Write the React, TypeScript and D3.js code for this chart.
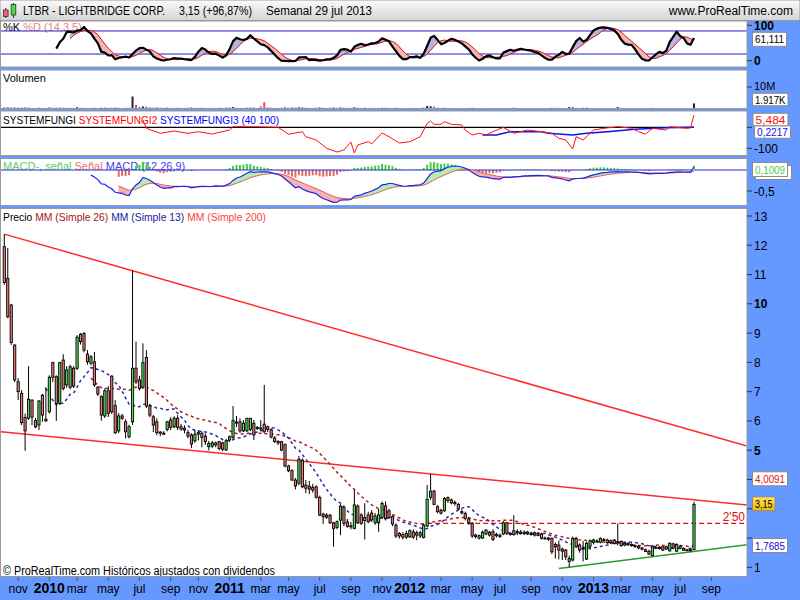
import React from "react";
import * as d3 from "d3";

// ---------- DATA (weekly bars, LTBR, from 5 Oct 2009 to 29 Jul 2013) ----------
const START_DATE = new Date(2009, 9, 5);

const OPEN = [
  11.95,10.87,9.96,8.59,7.34,6.94,6.12,6.09,6.71,6.01,
  5.86,6.88,6.06,6.31,7.99,7.51,6.60,8.08,7.23,7.15,
  7.80,7.80,8.96,8.99,8.28,7.97,8.02,7.15,6.83,6.17,
  7.03,7.53,6.52,5.66,6.17,5.97,5.46,5.97,7.80,7.40,
  7.15,8.17,6.51,6.14,5.97,5.62,5.58,5.71,6.03,5.80,
  6.09,5.80,5.75,5.60,5.52,5.32,5.60,5.58,5.48,5.12,
  5.14,5.18,5.29,5.25,5.01,5.35,5.44,5.96,5.97,5.66,
  5.66,5.71,5.92,5.78,5.76,5.89,5.80,5.70,5.42,5.30,
  5.29,5.20,4.46,4.30,3.98,3.87,4.66,3.81,3.77,3.73,
  3.75,3.39,2.82,2.78,2.78,2.52,2.36,2.61,3.05,2.55,
  2.42,2.33,3.09,2.79,2.60,2.79,2.85,2.52,2.52,2.70,
  3.10,2.93,2.73,2.44,2.16,2.12,2.15,2.04,2.21,2.18,
  2.18,2.02,2.41,3.39,3.60,3.07,2.95,2.93,3.38,3.30,
  3.22,3.15,2.90,2.84,2.65,2.50,2.10,2.08,2.00,2.14,
  2.20,2.21,2.12,2.10,2.14,2.52,2.16,2.12,2.22,2.20,
  2.15,2.20,2.16,2.18,2.14,2.14,2.00,2.00,1.99,1.78,
  1.76,1.62,1.59,1.20,1.25,1.99,1.76,1.65,1.28,1.72,
  1.85,1.90,1.86,1.95,1.93,1.85,1.93,1.84,1.88,1.76,
  1.82,1.78,1.74,1.72,1.66,1.60,1.55,1.40,1.68,1.68,
  1.70,1.70,1.56,1.80,1.55,1.72,1.64,1.60,1.59,1.61,
];
const HIGH = [
  12.38,11.91,10.00,8.62,7.46,7.05,6.25,7.87,6.74,6.10,
  6.71,6.92,7.15,7.56,8.02,7.56,8.02,8.28,7.87,7.92,
  7.87,8.93,9.00,9.03,8.42,8.25,8.36,7.19,6.88,7.11,
  7.19,7.56,6.71,6.27,6.24,6.06,5.87,11.13,8.71,7.54,
  8.65,8.42,6.58,6.20,6.09,5.65,5.65,6.00,6.13,6.16,
  6.20,5.90,5.85,5.69,5.58,5.69,5.69,5.65,5.58,5.32,
  5.32,5.29,5.32,5.29,5.39,5.50,6.51,6.17,6.09,6.03,
  6.09,6.09,6.03,5.82,6.03,7.23,5.84,5.75,5.48,5.34,
  5.32,5.22,4.50,4.35,4.05,4.80,4.72,3.98,3.95,3.85,
  3.80,3.45,2.86,2.85,2.82,2.55,2.60,3.16,3.12,2.65,
  2.55,3.64,3.15,2.85,3.19,2.90,2.95,2.85,3.00,3.25,
  3.25,3.00,2.78,2.50,2.20,2.20,2.25,2.30,2.30,2.25,
  2.25,2.50,3.81,4.19,3.65,3.12,3.00,3.40,3.42,3.35,
  3.28,3.20,2.98,2.90,2.72,2.55,2.15,2.12,2.25,2.30,
  2.24,2.30,2.18,2.15,2.58,2.55,2.20,2.78,2.30,2.28,
  2.26,2.25,2.22,2.22,2.20,2.18,2.05,2.04,2.02,1.85,
  1.91,1.68,1.62,1.40,2.05,2.04,1.82,1.90,1.87,1.95,
  1.98,1.96,2.02,2.00,1.98,1.95,1.97,2.50,1.92,1.86,
  1.86,1.82,1.78,1.76,1.70,1.64,1.60,1.72,1.74,1.72,
  1.72,1.74,1.85,1.84,1.82,1.76,1.68,1.63,1.63,3.24,
];
const LOW = [
  10.65,9.50,8.60,7.33,6.71,5.86,4.98,6.03,5.86,5.75,
  5.69,5.97,5.97,6.26,7.33,6.00,6.54,7.04,7.13,7.08,
  7.12,7.74,8.61,8.34,7.92,7.90,7.16,6.85,6.01,6.10,
  6.13,6.24,5.55,5.58,6.03,5.40,5.40,5.86,7.26,7.04,
  7.09,6.44,6.13,5.62,5.51,5.48,5.52,5.64,5.69,5.75,
  5.69,5.66,5.58,5.41,5.07,5.25,5.34,5.10,5.18,4.99,
  5.07,5.10,5.00,4.97,4.97,5.28,5.37,5.79,5.59,5.62,
  5.62,5.65,5.35,5.69,5.65,5.58,5.62,5.40,5.25,5.18,
  4.97,4.41,4.25,3.95,3.66,3.80,3.70,3.53,3.50,3.55,
  3.35,2.75,2.48,2.65,2.48,1.70,2.30,2.10,2.40,2.35,
  2.30,2.30,2.48,2.45,1.95,2.50,2.55,2.45,2.21,2.65,
  2.60,2.65,2.40,2.00,1.98,1.95,1.97,2.00,1.97,1.93,
  2.00,1.98,2.38,3.30,3.12,2.85,2.80,2.90,3.20,3.15,
  3.10,2.95,2.80,2.60,2.45,2.00,1.98,1.95,1.97,2.10,
  2.05,1.90,2.02,2.00,2.10,2.10,2.08,2.08,2.10,2.12,
  2.10,2.10,2.08,2.05,2.06,1.95,1.95,1.90,1.45,1.30,
  1.27,1.25,1.25,1.00,1.20,1.65,1.50,1.20,1.25,1.60,
  1.78,1.84,1.82,1.88,1.80,1.80,1.78,1.75,1.70,1.72,
  1.74,1.70,1.66,1.62,1.58,1.52,1.42,1.38,1.62,1.60,
  1.55,1.60,1.54,1.62,1.52,1.62,1.56,1.55,1.54,1.58,
];
const CLOSE = [
  10.73,9.56,8.68,7.40,7.00,5.94,5.66,6.74,6.13,5.80,
  6.68,6.20,6.00,7.49,7.49,6.60,7.99,7.11,7.74,7.85,
  7.19,8.86,8.71,8.42,8.02,8.19,7.23,6.92,6.20,7.03,
  6.26,6.31,5.60,6.17,6.09,5.63,5.80,7.80,7.34,7.11,
  7.99,6.51,6.20,5.86,5.60,5.58,5.56,5.97,5.78,6.09,
  5.78,5.72,5.69,5.48,5.21,5.55,5.55,5.44,5.29,5.23,
  5.25,5.25,5.06,5.03,5.32,5.46,6.01,5.94,5.66,5.92,
  6.09,6.09,5.52,5.75,5.74,5.63,5.71,5.45,5.30,5.25,
  5.00,4.46,4.30,3.98,3.78,4.69,3.75,3.70,3.67,3.64,
  3.39,2.78,2.73,2.71,2.52,2.33,2.56,3.09,2.50,2.40,
  2.38,3.13,2.52,2.50,2.70,2.56,2.62,2.75,2.79,3.18,
  2.66,2.70,2.48,2.07,2.07,2.03,2.03,2.25,2.03,2.10,
  2.07,2.44,3.32,3.60,3.15,2.90,2.85,3.35,3.28,3.20,
  3.18,2.99,2.86,2.67,2.52,2.07,2.05,2.00,2.20,2.27,
  2.10,1.95,2.08,2.05,2.52,2.16,2.12,2.25,2.18,2.16,
  2.20,2.14,2.12,2.10,2.09,1.99,1.98,1.96,1.53,1.70,
  1.59,1.55,1.36,1.30,1.99,1.70,1.59,1.62,1.82,1.90,
  1.93,1.88,1.99,1.94,1.84,1.91,1.82,1.88,1.74,1.82,
  1.78,1.74,1.72,1.66,1.62,1.54,1.45,1.70,1.66,1.64,
  1.59,1.62,1.82,1.66,1.78,1.65,1.58,1.58,1.60,3.15,
];
// volume in millions of shares
const VOLUME = [
  0.5,0.6,0.4,0.5,0.3,0.4,0.5,0.3,0.2,0.2,
  0.3,0.2,0.2,0.4,0.3,0.4,0.3,0.3,0.2,0.2,
  0.2,0.5,0.3,0.3,0.2,0.2,0.3,0.2,0.4,0.3,
  0.2,0.3,0.4,0.2,0.1,0.3,0.2,5.8,1.7,0.6,
  0.9,0.8,0.5,0.4,0.5,0.3,0.2,0.3,0.2,0.2,
  0.3,0.2,0.2,0.3,0.5,0.2,0.3,0.3,0.2,0.2,
  0.2,0.1,0.3,0.2,0.3,0.3,0.6,0.3,0.2,0.2,
  0.3,0.3,0.4,0.1,0.9,3.0,0.4,0.3,0.2,0.2,
  0.3,0.6,0.3,0.5,0.4,0.5,0.5,0.3,0.2,0.2,
  0.3,0.6,0.3,0.2,0.3,0.5,0.2,0.4,0.3,0.2,
  0.2,0.5,0.3,0.2,0.3,0.2,0.2,0.2,0.2,0.3,
  0.3,0.2,0.2,0.3,0.1,0.1,0.1,0.2,0.1,0.1,
  0.1,0.3,1.2,1.0,0.8,0.3,0.2,0.3,0.2,0.1,
  0.1,0.1,0.1,0.1,0.2,0.3,0.1,0.1,0.1,0.1,
  0.1,0.2,0.1,0.1,0.2,0.2,0.1,0.3,0.1,0.1,
  0.1,0.1,0.1,0.1,0.1,0.1,0.1,0.1,0.3,0.2,
  0.2,0.1,0.2,0.6,0.5,0.2,0.2,0.3,0.3,0.1,
  0.1,0.1,0.1,0.1,0.1,0.1,0.1,0.6,0.2,0.1,
  0.1,0.1,0.1,0.1,0.1,0.1,0.1,0.2,0.1,0.1,
  0.1,0.1,0.1,0.1,0.1,0.1,0.1,0.1,0.1,2.4,
];
// SYSTEMFUNGI2 (red) and SYSTEMFUNGI3 (blue): bar index / value
const SF2_IDX = [40,41,45,49,53,56,60,65,66,72,79,82,86,87,90,93,96,98,100,101,102,105,106,109,111,114,117,120,122,123,124,126,127,129,132,133,135,137,139,141,144,147,151,155,158,160,162,164,165,167,170,173,177,181,183,185,187,191,192,197,198,199];
const SF2_VAL = [34.8,-4.8,-28.6,-17.6,-28.6,-21,-31.9,-12.9,2.9,2.9,0,-33,-21,-44.8,-60.5,-100,-117.6,-108,-70,-122,-84,-68.6,-79.5,-27,-44.8,-74.8,-68.6,-44.8,19,30,14.3,14.3,26.7,14.3,11,-12.9,-36.7,-28.6,-36.7,-21,0,-28.6,-12.9,-21,-28.6,-52.4,-60.5,-103,-44.8,-60.5,-12.9,-4.8,2.9,-4.8,-21,-33,-4.8,-12.9,2.9,-4.8,-3,58.6];
const SF3_IDX = [138,142,146,155,157,164,168,174,182,191,199];
const SF3_VAL = [-36.7,-36.7,-21,-21,-28.6,-36.7,-28.6,-21,-9.5,-1.9,0.2];

// trend lines: [barIndex, price] anchors
const TREND_UPPER = [[0, 12.38], [37, 11.13]];
const TREND_LOWER = [[0, 5.62], [123, 4.19]];
const TREND_GREEN = [[160, 0.955], [199, 1.54]];
const LEVEL_START = 122;
const LEVEL_VALUE = 2.5;

const PRICE_TICKS = [1,2,3,4,5,6,7,8,9,10,11,12,13];
const PRICE_TICKS_HIDDEN = [2,3,4]; // covered by the value boxes
const MONTHS_ES = ["ene","feb","mar","abr","may","jun","jul","ago","sep","oct","nov","dic"];

// ---------- helpers ----------
type N = number | null;
const smaN = (arr: N[], n: number): N[] =>
  arr.map((_, i) => {
    if (i < n - 1) return null;
    const w = arr.slice(i - n + 1, i + 1);
    if (w.some((v) => v == null)) return null;
    return d3.mean(w as number[]) as number;
  });
const emaN = (arr: N[], n: number, from: number): N[] => {
  const k = 2 / (n + 1);
  let prev: number | null = null;
  return arr.map((v, i) => {
    if (i < from || v == null) return null;
    prev = prev == null ? v : prev + k * (v - prev);
    return prev;
  });
};

const FONT = "'Liberation Sans', Arial, sans-serif";
const BLUE_BG = "#6699ff";

function diffFill(a: N[], b: N[], xf: (i: number) => number, yf: (v: number) => number) {
  const out: { d: string; pos: boolean }[] = [];
  for (let i = 0; i < a.length - 1; i++) {
    const a0 = a[i], b0 = b[i], a1 = a[i + 1], b1 = b[i + 1];
    if (a0 == null || b0 == null || a1 == null || b1 == null) continue;
    const d0 = a0 - b0, d1 = a1 - b1;
    const x0 = xf(i), x1 = xf(i + 1);
    if (d0 * d1 < 0) {
      const t = d0 / (d0 - d1);
      const xc = x0 + t * (x1 - x0);
      const vc = a0 + t * (a1 - a0);
      out.push({ d: `M${x0},${yf(a0)}L${xc},${yf(vc)}L${x0},${yf(b0)}Z`, pos: d0 > 0 });
      out.push({ d: `M${xc},${yf(vc)}L${x1},${yf(a1)}L${x1},${yf(b1)}Z`, pos: d1 > 0 });
    } else {
      out.push({ d: `M${x0},${yf(a0)}L${x1},${yf(a1)}L${x1},${yf(b1)}L${x0},${yf(b0)}Z`, pos: d0 + d1 > 0 });
    }
  }
  return out;
}

function ValueBox({ x, y, w, text, color, bg = "#ffffff", h = 14 }: { x: number; y: number; w: number; text?: string; color: string; bg?: string; h?: number }) {
  return (
    <g>
      <rect x={x} y={y - h / 2} width={w} height={h} fill={bg} stroke="#8a8a8a" strokeWidth={1} />
      {text ? (
        <text x={x + 2.5} y={y + 4} fontSize={11} fontFamily={FONT} fill={color} textLength={w - 5} lengthAdjust="spacingAndGlyphs">{text}</text>
      ) : null}
    </g>
  );
}

export default function App() {
  const n = CLOSE.length;
  const dates = CLOSE.map((_, i) => d3.timeDay.offset(START_DATE, 7 * i));
  const x = d3.scaleTime().domain([dates[0], dates[n - 1]]).range([4.3, 694]);
  const xi = (i: number) => x(dates[i]) as number;
  const xIdx = d3.scaleLinear().domain([0, n - 1]).range([4.3, 694]);

  const RIGHT = 747;
  const P = { stoch: [21, 67], vol: [70, 108.5], sf: [111, 155.5], macd: [158.5, 205.5], price: [208.5, 576.5] };

  const yP = d3.scaleLinear().domain([1, 13]).range([567.3, 216]);
  const yS = d3.scaleLinear().domain([0, 100]).range([61.7, 23.3]);
  const yV = d3.scaleLinear().domain([0, 10]).range([108.3, 88]);
  const yF = d3.scaleLinear().domain([-100, 0]).range([148.3, 127.3]);
  const yM = d3.scaleLinear().domain([-0.5, 0]).range([191, 170]);

  // indicators
  const rawK: N[] = CLOSE.map((c, i) => {
    if (i < 13) return null;
    const hh = d3.max(HIGH.slice(i - 13, i + 1)) as number;
    const ll = d3.min(LOW.slice(i - 13, i + 1)) as number;
    return hh === ll ? 50 : (100 * (c - ll)) / (hh - ll);
  });
  const K = smaN(rawK, 3);
  const D = smaN(K, 5);
  const sma13 = smaN(CLOSE, 13);
  const sma26 = smaN(CLOSE, 26);
  const e12 = emaN(CLOSE, 12, 0);
  const e26 = emaN(CLOSE, 26, 0);
  const macd: N[] = CLOSE.map((_, i) => (i < 25 ? null : (e12[i] as number) - (e26[i] as number)));
  const signal: N[] = emaN(macd, 9, 25).map((v, i) => (i < 33 ? null : v));
  const hist: N[] = macd.map((v, i) => (v == null || signal[i] == null ? null : v - (signal[i] as number)));

  const lineOf = (arr: N[], yf: (v: number) => number) =>
    d3.line<N>().defined((v) => v != null).x((_, i) => xi(i)).y((v) => yf(v as number))(arr) || "";

  const stochFill = diffFill(K, D, xi, (v) => yS(v));
  const macdFill = diffFill(macd, signal, xi, (v) => yM(v));

  const sfLine = (idx: number[], vals: number[]) =>
    d3.line<number>().x((_, k) => xi(idx[k])).y((v) => yF(v))(vals) || "";

  const trend = (anchors: number[][], extendLeft: boolean) => {
    const [[i1, v1], [i2, v2]] = anchors;
    const slope = (v2 - v1) / (i2 - i1);
    const iL = extendLeft ? xIdx.invert(0) : i1;
    const iR = xIdx.invert(RIGHT);
    return { x1: xIdx(iL), y1: yP(v1 + slope * (iL - i1)), x2: xIdx(iR), y2: yP(v1 + slope * (iR - i1)) };
  };
  const tU = trend(TREND_UPPER, false);
  const tL = trend(TREND_LOWER, true);
  const tG = trend(TREND_GREEN, false);

  const months = d3.timeMonth.range(new Date(2009, 10, 1), new Date(2013, 9, 2), 2);

  const panel = (key: keyof typeof P) => (
    <rect x={0.5} y={P[key][0]} width={RIGHT - 0.5} height={P[key][1] - P[key][0]} fill="#ffffff" stroke="#9a9a9a" strokeWidth={1} />
  );
  const clip = (key: keyof typeof P) => (
    <clipPath id={`clip-${key}`}>
      <rect x={1} y={P[key][0] + 0.5} width={RIGHT - 1.5} height={P[key][1] - P[key][0] - 1} />
    </clipPath>
  );
  const tick = (y: number) => <line x1={RIGHT} x2={RIGHT + 5} y1={y} y2={y} stroke="#333" strokeWidth={1} />;
  const axLabel = (y: number, t: string, bold = false, size = 12) => (
    <text x={RIGHT + 7} y={y + 4.5} fontSize={size} fontWeight={bold ? "bold" : "normal"} fontFamily={FONT} fill="#000">{t}</text>
  );

  const up = (i: number) => CLOSE[i] >= OPEN[i];

  return (
    <div style={{ width: 800, height: 600 }}>
      <style>{`body{margin:0;padding:0;overflow:hidden}`}</style>
      <svg width={800} height={600} style={{ display: "block" }} fontFamily={FONT}>
        <defs>
          <linearGradient id="hdr" x1="0" y1="0" x2="0" y2="1">
            <stop offset="0" stopColor="#fbfbfb" />
            <stop offset="1" stopColor="#d4d4d4" />
          </linearGradient>
          <linearGradient id="gold" x1="0" y1="0" x2="0" y2="1">
            <stop offset="0" stopColor="#ffe066" />
            <stop offset="1" stopColor="#f5b800" />
          </linearGradient>
          {clip("stoch")}
          {clip("vol")}
          {clip("sf")}
          {clip("macd")}
          {clip("price")}
        </defs>
        <rect x={0} y={0} width={800} height={600} fill={BLUE_BG} />

        {/* header */}
        <rect x={0} y={0} width={800} height={20.5} fill="url(#hdr)" stroke="#999" strokeWidth={1} />
        <line x1={5.8} x2={5.8} y1={8} y2={18} stroke="#333" />
        <rect x={3.5} y={10} width={4.6} height={6.5} fill="#ee6666" stroke="#333" strokeWidth={0.8} />
        <line x1={13.5} x2={13.5} y1={3} y2={18} stroke="#333" />
        <rect x={11.2} y={4.5} width={4.6} height={10.5} fill="#44dd44" stroke="#333" strokeWidth={0.8} />
        <text x={23} y={15} fontSize={12} fill="#000" textLength={142} lengthAdjust="spacingAndGlyphs">LTBR - LIGHTBRIDGE CORP.</text>
        <text x={179} y={15} fontSize={12} fill="#000" textLength={73} lengthAdjust="spacingAndGlyphs">3,15 (+96,87%)</text>
        <text x={266} y={15} fontSize={12} fill="#000" textLength={106} lengthAdjust="spacingAndGlyphs">Semanal  29 jul 2013</text>
        <text x={793} y={15} fontSize={12} fill="#000" textAnchor="end">www.ProRealTime.com</text>

        {/* ---------- stochastic ---------- */}
        {panel("stoch")}
        <g clipPath="url(#clip-stoch)">
          <text x={3} y={31} fontSize={11}>
            <tspan fill="#000">%K </tspan>
            <tspan fill="#f08080">%D (14,3,5)</tspan>
          </text>
          <line x1={0} x2={RIGHT} y1={yS(80)} y2={yS(80)} stroke="#1f1fcc" strokeWidth={1} />
          <line x1={0} x2={RIGHT} y1={yS(20)} y2={yS(20)} stroke="#1f1fcc" strokeWidth={1} />
          {stochFill.map((p, k) => (
            <path key={k} d={p.d} fill={p.pos ? "#b3b3dd" : "#f3b5b5"} stroke={p.pos ? "#b3b3dd" : "#f3b5b5"} strokeWidth={0.4} />
          ))}
          <path d={lineOf(D, (v) => yS(v))} fill="none" stroke="#e01010" strokeWidth={1} />
          <path d={lineOf(K, (v) => yS(v))} fill="none" stroke="#000" strokeWidth={2.2} strokeLinejoin="round" />
        </g>
        {tick(yS(100) + 2)}
        {axLabel(yS(100) + 2, "100", true)}
        {tick(yS(0) - 1)}
        {axLabel(yS(0) - 1, "0", true)}
        <ValueBox x={752.5} y={39.3} w={34} text="61,111" color="#000" />

        {/* ---------- volume ---------- */}
        {panel("vol")}
        <g clipPath="url(#clip-vol)">
          <text x={3} y={81.5} fontSize={11} fill="#000">Volumen</text>
          {VOLUME.map((v, i) => (
            <rect key={i} x={xi(i) - 1} y={yV(v)} width={2} height={yV(0) - yV(v)} fill={up(i) ? "#222" : "#e05050"} />
          ))}
        </g>
        {tick(87)}
        {axLabel(85.5, "10M", false, 11)}
        <ValueBox x={752.5} y={99.5} w={35.5} h={12.5} text="1.917K" color="#000" />

        {/* ---------- SYSTEMFUNGI ---------- */}
        {panel("sf")}
        <g clipPath="url(#clip-sf)">
          <text x={3} y={124} fontSize={11} textLength={276} lengthAdjust="spacingAndGlyphs">
            <tspan fill="#000">SYSTEMFUNGI </tspan>
            <tspan fill="#ff0000">SYSTEMFUNGI2 </tspan>
            <tspan fill="#0000ff">SYSTEMFUNGI3 (40 100)</tspan>
          </text>
          <line x1={0} x2={xi(n - 1)} y1={yF(0)} y2={yF(0)} stroke="#000" strokeWidth={1.2} />
          <path d={sfLine(SF3_IDX, SF3_VAL)} fill="none" stroke="#1010ee" strokeWidth={1.4} />
          <path d={sfLine(SF2_IDX, SF2_VAL)} fill="none" stroke="#ff1010" strokeWidth={1} />
        </g>
        {tick(yF(-100))}
        {axLabel(yF(-100), "-100")}
        {tick(yF(0))}
        <ValueBox x={754.5} y={132} w={36} h={12.5} text="0,2217" color="#1010ee" />
        <ValueBox x={753} y={119.5} w={35} h={12.5} text="5,484" color="#ff1010" />

        {/* ---------- MACD ---------- */}
        {panel("macd")}
        <g clipPath="url(#clip-macd)">
          <text x={3} y={170} fontSize={11}>
            <tspan fill="#5dcc5d">MACD-, señal </tspan>
            <tspan fill="#ee7070">Señal </tspan>
            <tspan fill="#4444ee">MACD (12,26,9)</tspan>
          </text>
          {hist.map((h, i) =>
            h == null ? null : (
              <rect key={i} x={xi(i) - 1} y={Math.min(yM(0), yM(h))} width={2} height={Math.abs(yM(h) - yM(0))} fill={h >= 0 ? "#3fcf3f" : "#e06a6a"} />
            )
          )}
          <line x1={0} x2={RIGHT} y1={yM(0)} y2={yM(0)} stroke="#2a2ad0" strokeWidth={1} />
          {macdFill.map((p, k) => (
            <path key={k} d={p.d} fill={p.pos ? "#b2eeb2" : "#f2b2b2"} stroke={p.pos ? "#b2eeb2" : "#f2b2b2"} strokeWidth={0.4} />
          ))}
          <path d={lineOf(signal, (v) => yM(v))} fill="none" stroke="#e06060" strokeWidth={1} />
          <path d={lineOf(macd, (v) => yM(v))} fill="none" stroke="#2222ee" strokeWidth={1.2} />
        </g>
        {tick(yM(-0.5))}
        {axLabel(yM(-0.5), "-0,5")}
        <ValueBox x={755.5} y={172.5} w={36} color="#e06060" />
        <ValueBox x={752.5} y={169.5} w={35} text="0,1009" color="#3fcf3f" />

        {/* ---------- price ---------- */}
        {panel("price")}
        <g clipPath="url(#clip-price)">
          <text x={3} y={221} fontSize={11} textLength={263} lengthAdjust="spacingAndGlyphs">
            <tspan fill="#000">Precio </tspan>
            <tspan fill="#a01818">MM (Simple 26) </tspan>
            <tspan fill="#1a1a9a">MM (Simple 13) </tspan>
            <tspan fill="#ff4040">MM (Simple 200)</tspan>
          </text>
          <line {...tU} stroke="#ff2a2a" strokeWidth={1.5} />
          <line {...tL} stroke="#ff2a2a" strokeWidth={1.5} />
          <line {...tG} stroke="#2a9a2a" strokeWidth={1.5} />
          <line x1={xi(LEVEL_START)} x2={RIGHT} y1={yP(LEVEL_VALUE)} y2={yP(LEVEL_VALUE)} stroke="#dd1111" strokeWidth={1.2} strokeDasharray="5,3" />
          <text x={745} y={yP(LEVEL_VALUE) - 2} fontSize={12} fill="#e01010" textAnchor="end">2'50</text>
          <path d={lineOf(sma26, (v) => yP(v))} fill="none" stroke="#b02020" strokeWidth={1.5} strokeDasharray="3,3" />
          <path d={lineOf(sma13, (v) => yP(v))} fill="none" stroke="#2a2aaa" strokeWidth={1.5} strokeDasharray="3,3" />
          {CLOSE.map((c, i) => {
            const cx = xi(i);
            const top = yP(Math.max(OPEN[i], c));
            const bot = yP(Math.min(OPEN[i], c));
            return (
              <g key={i}>
                <line x1={cx} x2={cx} y1={yP(HIGH[i])} y2={yP(LOW[i])} stroke="#000" strokeWidth={1} />
                <rect x={cx - 1.1} y={top} width={2.2} height={Math.max(1, bot - top)} fill={up(i) ? "#55dd55" : "#f07878"} stroke="#000" strokeWidth={0.9} />
              </g>
            );
          })}
          <text x={3} y={575} fontSize={12} fill="#000" textLength={272} lengthAdjust="spacingAndGlyphs">© ProRealTime.com  Históricos ajustados con dividendos</text>
        </g>
        {PRICE_TICKS.map((p) => (
          <g key={p}>
            {tick(yP(p))}
            {PRICE_TICKS_HIDDEN.includes(p) ? null : axLabel(yP(p), String(p), p === 5 || p === 10)}
          </g>
        ))}
        <ValueBox x={752.5} y={478.8} w={35} text="4,0091" color="#e01010" />
        <ValueBox x={752.5} y={503.8} w={22.5} text="3,15" color="#000" bg="url(#gold)" />
        <ValueBox x={752.5} y={545.5} w={35} text="1,7685" color="#1010cc" />

        {/* ---------- time axis ---------- */}
        {months.map((m, k) => {
          const mx = x(d3.timeMonday.ceil(m)) as number;
          const isYear = m.getMonth() === 0;
          return (
            <g key={k}>
              <line x1={mx} x2={mx} y1={577} y2={581} stroke="#555" strokeWidth={1} />
              <text x={mx} y={593} fontSize={isYear ? 14 : 12} fontWeight={isYear ? "bold" : "normal"} textAnchor="middle" fill="#000">
                {isYear ? String(m.getFullYear()) : MONTHS_ES[m.getMonth()]}
              </text>
            </g>
          );
        })}
      </svg>
    </div>
  );
}
